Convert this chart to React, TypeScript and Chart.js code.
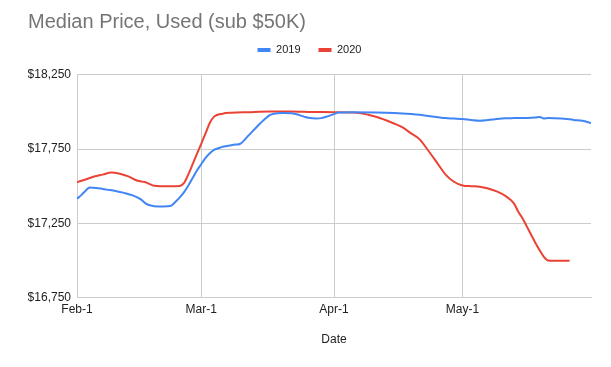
import React, { useEffect, useRef } from "react";
import { Chart, registerables } from "chart.js";

Chart.register(...registerables);

// Day index from Feb-1 (0) to May-31 (120)
const tickDays = [0, 29, 60, 90];
const tickLabels = ["Feb-1", "Mar-1", "Apr-1", "May-1"];
const yTicks = [16750, 17250, 17750, 18250];

const days2019 = [0, 1, 2, 3, 5, 7, 9, 11, 13, 15, 16, 17, 19, 21, 22, 23, 24, 25, 26, 27, 28, 29, 30, 31, 32, 33, 34, 36, 37, 38, 40, 42, 44, 45, 46, 48, 50, 51, 53, 54, 56, 57, 58, 60, 61, 64, 70, 74, 78, 80, 82, 84, 86, 88, 90, 92, 94, 96, 98, 100, 102, 105, 107, 108, 109, 110, 113, 115, 116, 118, 120];
const price2019 = [17415, 17440, 17470, 17492, 17486, 17477, 17468, 17455, 17438, 17410, 17385, 17372, 17363, 17365, 17370, 17395, 17425, 17460, 17505, 17555, 17605, 17648, 17690, 17722, 17745, 17755, 17765, 17776, 17780, 17784, 17840, 17900, 17955, 17978, 17988, 17992, 17990, 17985, 17968, 17960, 17955, 17958, 17966, 17985, 17995, 17998, 17996, 17992, 17985, 17980, 17972, 17965, 17958, 17955, 17952, 17945, 17940, 17945, 17952, 17957, 17958, 17959, 17962, 17966, 17955, 17958, 17956, 17950, 17946, 17940, 17925];

const days2020 = [0, 2, 4, 6, 8, 10, 12, 14, 16, 18, 20, 22, 24, 25, 26, 27, 28, 29, 30, 31, 32, 34, 36, 40, 45, 50, 55, 60, 64, 66, 68, 70, 72, 74, 76, 78, 80, 82, 84, 86, 88, 90, 92, 94, 96, 98, 100, 102, 103, 104, 105, 106, 107, 108, 109, 110, 111, 115];
const price2020 = [17527, 17545, 17565, 17578, 17592, 17584, 17566, 17538, 17527, 17503, 17500, 17499, 17502, 17522, 17580, 17648, 17718, 17785, 17855, 17925, 17968, 17988, 17994, 17998, 18002, 18002, 17999, 17998, 17996, 17992, 17980, 17966, 17945, 17922, 17895, 17855, 17815, 17740, 17660, 17580, 17530, 17505, 17500, 17497, 17485, 17465, 17435, 17385, 17330, 17285, 17230, 17175, 17120, 17070, 17025, 17000, 16998, 16998];

const seriesNames = ["2019", "2020"];
const seriesColors = ["#4285f4", "#ea4335"];

const fmt = (v: number) => "$" + v.toLocaleString("en-US");

export default function App() {
  const ref = useRef<HTMLCanvasElement | null>(null);

  useEffect(() => {
    if (!ref.current) return;
    const family = '"Liberation Sans", Arial, sans-serif';
    const chart = new Chart(ref.current, {
      type: "line",
      data: {
        datasets: [
          {
            label: seriesNames[0],
            data: days2019.map((d, i) => ({ x: d, y: price2019[i] })),
            borderColor: seriesColors[0],
            backgroundColor: seriesColors[0],
            borderWidth: 2,
            pointRadius: 0,
            cubicInterpolationMode: "monotone",
          },
          {
            label: seriesNames[1],
            data: days2020.map((d, i) => ({ x: d, y: price2020[i] })),
            borderColor: seriesColors[1],
            backgroundColor: seriesColors[1],
            borderWidth: 2,
            pointRadius: 0,
            cubicInterpolationMode: "monotone",
          },
        ],
      },
      options: {
        animation: false,
        responsive: false,
        layout: { padding: { left: 28, right: 20, top: 0, bottom: 16.5 } },
        font: { family },
        plugins: {
          title: {
            display: true,
            text: "Median Price, Used (sub $50K)",
            align: "start",
            color: "#757575",
            font: { family, size: 20, weight: "normal" },
            padding: { top: 10.5, bottom: -8 },
          },
          legend: {
            display: true,
            position: "top",
            align: "center",
            labels: {
              boxWidth: 13,
              boxHeight: 4,
              padding: 18,
              color: "#222",
              font: { family, size: 11 },
              generateLabels: (c: any) =>
                c.data.datasets.map((ds: any, i: number) => ({
                  text: ds.label,
                  fillStyle: ds.borderColor,
                  strokeStyle: ds.borderColor,
                  lineWidth: 0,
                  hidden: false,
                  datasetIndex: i,
                  fontColor: "#222",
                })),
            },
          },
          tooltip: { enabled: false },
        },
        scales: {
          x: {
            type: "linear",
            min: 0,
            max: 120,
            afterBuildTicks: (axis: any) => {
              axis.ticks = tickDays.map((v) => ({ value: v }));
            },
            ticks: {
              autoSkip: false,
              maxRotation: 0,
              padding: 5,
              color: "#222",
              font: { family, size: 12 },
              callback: (_v: any, i: number) => tickLabels[i],
            },
            grid: { color: "#cccccc", drawTicks: false, lineWidth: 1 },
            border: { color: "#cccccc" },
            title: {
              display: true,
              text: "Date",
              color: "#222",
              font: { family, size: 12 },
              padding: { top: 10, bottom: 4 },
            },
          },
          y: {
            type: "linear",
            min: 16750,
            max: 18250,
            afterBuildTicks: (axis: any) => {
              axis.ticks = yTicks.map((v) => ({ value: v }));
            },
            afterFit: (s: any) => {
              s.width = 49;
            },
            ticks: {
              padding: 6,
              color: "#222",
              font: { family, size: 12 },
              callback: (v: any) => fmt(Number(v)),
            },
            grid: { color: "#cccccc", drawTicks: false, lineWidth: 1 },
            border: { display: false },
          },
          spacer: {
            type: "linear",
            position: "top",
            display: true,
            min: 0,
            max: 1,
            grid: { display: false, drawTicks: false },
            border: { display: false },
            ticks: { display: false },
            afterFit: (s: any) => {
              s.height = 9.2;
            },
          },
        },
      },
    } as any);
    return () => chart.destroy();
  }, []);

  return (
    <div style={{ position: "absolute", left: 0, top: 0, width: 611, height: 367, background: "#fff" }}>
      <canvas ref={ref} width={611} height={367} style={{ display: "block" }} />
    </div>
  );
}
